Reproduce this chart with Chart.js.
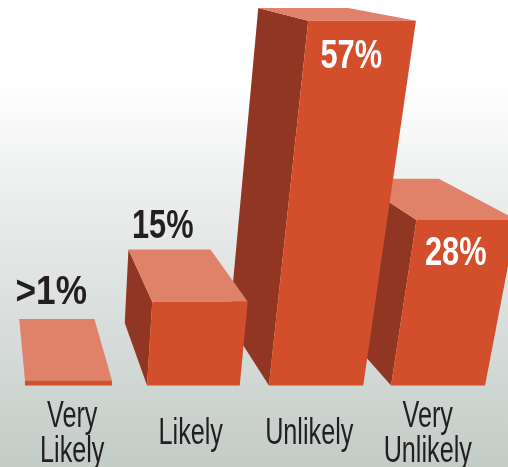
<!DOCTYPE html>
<html>
<head>
<meta charset="utf-8">
<script src="https://cdn.jsdelivr.net/npm/chart.js@4/dist/chart.umd.js"></script>
<style>
html,body{margin:0;padding:0;background:#fff;overflow:hidden}
#wrap{position:relative;width:508px;height:467px}
canvas{display:block}
</style>
</head>
<body>
<div id="wrap"><canvas id="c" width="508" height="467"></canvas></div>
<script>
// ---- data ----
const categories = [['Very', 'Likely'], 'Likely', 'Unlikely', ['Very', 'Unlikely']];
const shares = [1, 15, 57, 28];
const shareLabels = ['>1%', '15%', '57%', '28%'];

// ---- styling ----
const FRONT = '#D34E2A', TOP = '#E0826A', SIDE = '#903623', INK = '#231F20';
const labelColors = [INK, INK, '#FFFFFF', '#FFFFFF'];
const FONT = '"Liberation Sans", sans-serif';
const TICK_SQUEEZE = 0.7;
const valueSqueeze = [0.88, 0.77, 0.77, 0.77];

// Perspective of each bar, as offsets from the element the library laid out.
const baseL = [-47.3, -43.7, -40.3, -36.7];
const baseR = [39.7, 49, 54, 57.3];
const topL = [-47.3, -38.5, -1, -11.3];
const topR = [39.7, 57, 106.7, 89];
const drop = [1.4, 12.2, 0, 13.7];
const backL = [-53, -62.3, -51, -74];
const backR = [22.2, 19.7, 39, 11];
const backY = [-61.5, -52.2, -12.7, -41.3];
const sideTop = [null, [-62.3, -52.2], [-51, -12.7], [-39.2, -18.3]];
const sideLow = [null, [-66, -62.5], [-80, -62], [-61.7, -28.2]];
const labelDx = [-21, -28, 42, 28];
const labelDy = [-86, -62.5, 36.3, 47.2];

function poly(ctx, pts, fill) {
  ctx.beginPath();
  pts.forEach((p, i) => i ? ctx.lineTo(p[0], p[1]) : ctx.moveTo(p[0], p[1]));
  ctx.closePath();
  ctx.fillStyle = fill;
  ctx.fill();
}

// The original type is condensed: narrow all real text around its anchor.
const condensed = {
  id: 'condensed',
  beforeInit(chart) {
    const ctx = chart.ctx, plain = ctx.fillText.bind(ctx);
    ctx.squeeze = TICK_SQUEEZE;
    ctx.fillText = function (text, x, y) {
      ctx.save();
      ctx.translate(x, y);
      ctx.scale(ctx.squeeze, 1);
      plain(text, 0, 0);
      ctx.restore();
    };
  }
};

const backdrop = {
  id: 'backdrop',
  beforeDraw(chart) {
    const { ctx, width, height } = chart;
    const g = ctx.createLinearGradient(0, 80, 0, height);
    g.addColorStop(0, '#FFFFFF');
    g.addColorStop(0.39, '#E6E9E8');
    g.addColorStop(1, '#C4CCC7');
    ctx.save();
    ctx.fillStyle = g;
    ctx.fillRect(0, 0, width, height);
    ctx.restore();
  }
};

const bars3d = {
  id: 'bars3d',
  beforeDatasetDraw(chart, args) {
    const { ctx } = chart;
    const els = chart.getDatasetMeta(args.index).data;
    ctx.save();
    for (let i = els.length - 1; i >= 0; i--) {
      const el = els[i], x = el.x, b = el.base, t = el.y + drop[i];
      if (sideTop[i]) {
        poly(ctx, [
          [x + sideTop[i][0], t + sideTop[i][1]],
          [x + topL[i], t],
          [x + baseL[i], b],
          [x + sideLow[i][0], b + sideLow[i][1]]
        ], SIDE);
      }
      poly(ctx, [
        [x + backL[i], t + backY[i]],
        [x + backR[i], t + backY[i]],
        [x + topR[i], t],
        [x + topL[i], t]
      ], TOP);
      poly(ctx, [
        [x + topL[i], t],
        [x + topR[i], t],
        [x + baseR[i], b],
        [x + baseL[i], b]
      ], FRONT);
    }
    ctx.restore();
    return false;
  },
  afterDatasetsDraw(chart) {
    const { ctx } = chart;
    const els = chart.getDatasetMeta(0).data;
    ctx.save();
    ctx.font = 'bold 40px ' + FONT;
    ctx.textAlign = 'center';
    ctx.textBaseline = 'middle';
    els.forEach((el, i) => {
      ctx.squeeze = valueSqueeze[i];
      ctx.fillStyle = labelColors[i];
      ctx.fillText(shareLabels[i], el.x + labelDx[i], el.y + labelDy[i]);
    });
    ctx.squeeze = TICK_SQUEEZE;
    ctx.restore();
  }
};

new Chart(document.getElementById('c'), {
  type: 'bar',
  data: {
    labels: categories,
    datasets: [{ data: shares, backgroundColor: FRONT, barThickness: 94 }]
  },
  options: {
    responsive: false,
    animation: false,
    events: [],
    layout: { padding: { left: 13, right: 21, top: 1.5, bottom: 0 } },
    plugins: { legend: { display: false }, tooltip: { enabled: false }, title: { display: false } },
    scales: {
      x: {
        grid: { display: false, drawTicks: false },
        border: { display: false },
        afterFit(scale) {
          scale.height = 81.5;
          scale.paddingLeft = 0;
          scale.paddingRight = 0;
        },
        ticks: {
          color: INK,
          maxRotation: 0,
          autoSkip: false,
          padding: 31.5,
          crossAlign: 'center',
          font: { family: FONT, size: 36, lineHeight: 0.97 }
        }
      },
      y: { display: false, min: 0, max: 60 }
    }
  },
  plugins: [condensed, backdrop, bars3d]
});
</script>
</body>
</html>
